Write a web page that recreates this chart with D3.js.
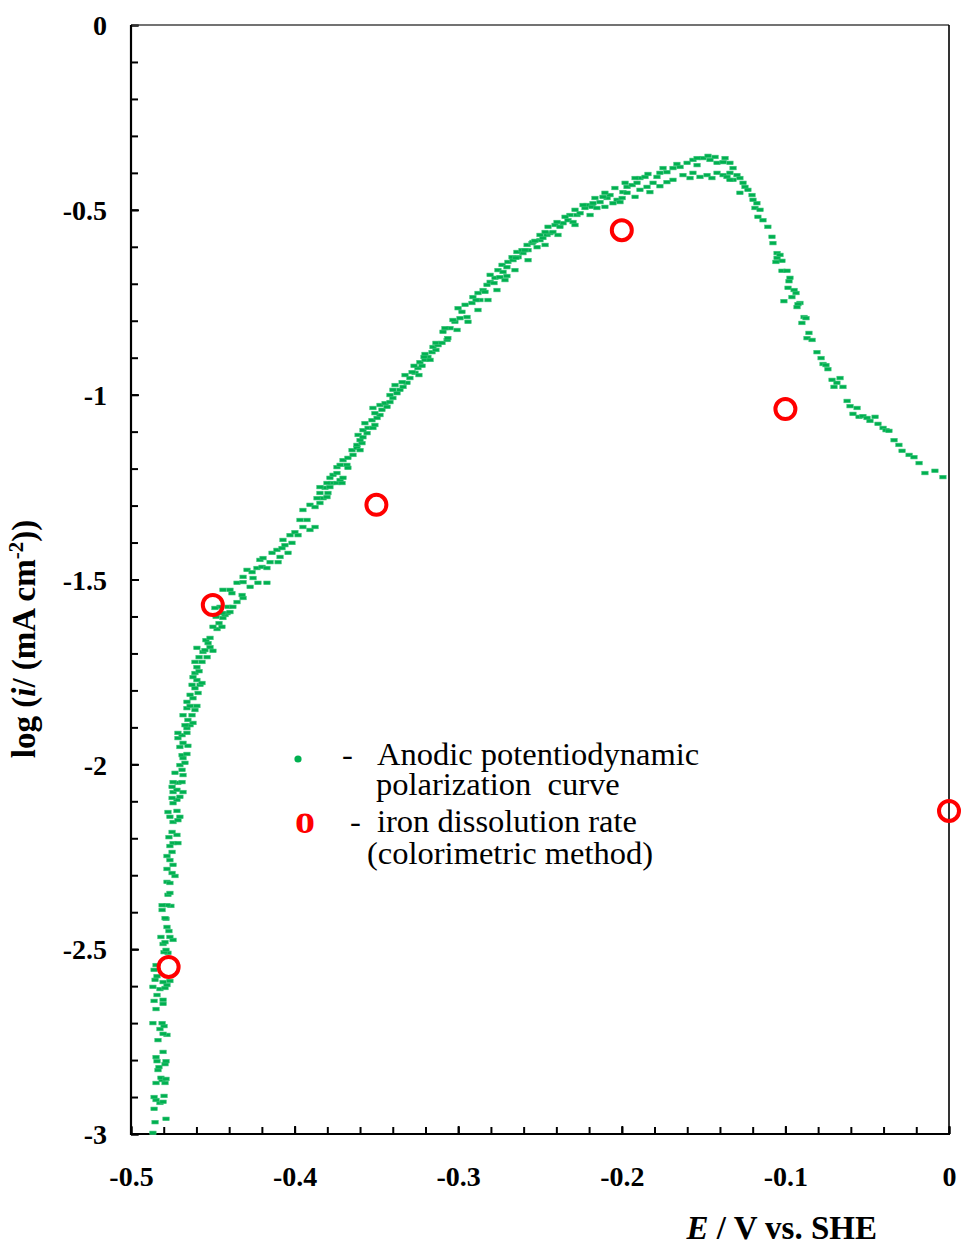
<!DOCTYPE html>
<html>
<head>
<meta charset="utf-8">
<script src="https://cdn.jsdelivr.net/npm/d3@7"></script>
<style>
  html, body { margin: 0; padding: 0; background: #fff; }
  svg { display: block; }
</style>
</head>
<body>
<svg id="chart" width="961" height="1245"></svg>
<script>
// ---- data ----
// Anodic potentiodynamic polarization curve: potential E (V vs. SHE)
const curveE = [
-0.4866,-0.4853,-0.4786,-0.4859,-0.4823,-0.4804,-0.4847,-0.4859,-0.4798,-0.4792,
-0.4847,-0.4810,-0.4817,-0.4786,-0.4835,-0.4829,-0.4792,-0.4786,-0.4841,-0.4847,
-0.4804,-0.4835,-0.4780,-0.4804,-0.4823,-0.4798,-0.4810,-0.4866,-0.4847,-0.4804,
-0.4804,-0.4859,-0.4841,-0.4866,-0.4823,-0.4792,-0.4780,-0.4804,-0.4762,-0.4853,
-0.4841,-0.4859,-0.4847,-0.4774,-0.4798,-0.4786,-0.4804,-0.4792,-0.4743,-0.4762,
-0.4817,-0.4768,-0.4780,-0.4786,-0.4792,-0.4810,-0.4756,-0.4780,-0.4810,-0.4774,
-0.4762,-0.4780,-0.4762,-0.4731,-0.4749,-0.4780,-0.4743,-0.4762,-0.4780,-0.4749,
-0.4743,-0.4762,-0.4713,-0.4749,-0.4719,-0.4768,-0.4743,-0.4713,-0.4701,-0.4762,
-0.4774,-0.4719,-0.4743,-0.4719,-0.4749,-0.4701,-0.4743,-0.4719,-0.4682,-0.4749,
-0.4713,-0.4743,-0.4688,-0.4731,-0.4682,-0.4688,-0.4701,-0.4670,-0.4682,-0.4688,
-0.4658,-0.4701,-0.4652,-0.4682,-0.4713,-0.4688,-0.4658,-0.4713,-0.4658,-0.4639,
-0.4670,-0.4621,-0.4652,-0.4682,-0.4627,-0.4609,-0.4658,-0.4639,-0.4597,-0.4658,
-0.4621,-0.4639,-0.4590,-0.4609,-0.4627,-0.4578,-0.4597,-0.4621,-0.4566,-0.4609,
-0.4584,-0.4597,-0.4609,-0.4566,-0.4584,-0.4535,-0.4560,-0.4597,-0.4548,-0.4517,
-0.4529,-0.4542,-0.4517,-0.4499,
-0.4474,-0.4499,-0.4444,-0.4462,-0.4438,-0.4480,-0.4425,-0.4413,-0.4395,-0.4456,
-0.4407,-0.4377,-0.4487,-0.4444,-0.4352,-0.4315,-0.4321,-0.4383,-0.4438,-0.4395,
-0.4352,-0.4315,-0.4272,-0.4315,-0.4254,-0.4224,-0.4169,-0.4291,-0.4260,-0.4230,
-0.4199,-0.4169,-0.4212,-0.4193,-0.4150,-0.4101,-0.4089,-0.4138,-0.4108,-0.4077,
-0.4059,-0.4016,-0.4040,-0.4071,-0.4028,-0.3998,-0.3979,-0.3949,-0.3967,-0.3924,
-0.3906,-0.3875,-0.3949,-0.3906,-0.3875,-0.3845,-0.3826,-0.3863,-0.3802,-0.3845,
-0.3796,-0.3814,-0.3845,-0.3784,-0.3772,-0.3741,-0.3802,-0.3784,-0.3765,-0.3722,
-0.3710,-0.3704,-0.3741,-0.3741,-0.3722,-0.3680,-0.3674,-0.3704,-0.3674,-0.3643,
-0.3649,-0.3619,-0.3600,-0.3619,-0.3588,-0.3600,-0.3612,-0.3582,-0.3557,-0.3582,
-0.3551,-0.3521,-0.3509,-0.3570,-0.3527,-0.3496,-0.3478,-0.3509,-0.3521,-0.3466,
-0.3478,-0.3435,-0.3447,-0.3417,-0.3399,-0.3417,-0.3374,-0.3356,-0.3399,-0.3337,
-0.3313,-0.3343,-0.3295,-0.3264,-0.3282,-0.3246,-0.3221,-0.3234,-0.3203,-0.3185,
-0.3203,-0.3160,-0.3136,-0.3154,-0.3123,
-0.3386,-0.3325,-0.3270,-0.3209,-0.3172,-0.3136,-0.3240,
-0.3099,-0.3068,-0.3093,-0.3050,-0.3020,-0.2989,-0.2946,-0.3001,-0.2958,-0.2916,
-0.2910,-0.2867,-0.2879,-0.2848,-0.2824,-0.2805,-0.2775,-0.2805,-0.2745,-0.2702,
-0.2757,-0.2732,-0.2702,-0.2696,-0.2665,-0.2671,-0.2634,-0.2604,-0.2641,-0.2610,
-0.2573,-0.2579,-0.2549,-0.2518,-0.2500,-0.2543,-0.2482,-0.2457,-0.2500,-0.2439,
-0.2421,-0.2451,-0.2408,-0.2378,-0.2359,-0.2329,-0.2298,-0.2274,-0.2317,-0.2255,
-0.2225,-0.2213,-0.2182,-0.2152,-0.2176,-0.2133,-0.2090,-0.2115,-0.2072,-0.2054,
-0.2029,-0.1998,-0.1993,-0.1968,-0.1937,-0.1968,-0.1907,-0.1889,-0.1858,-0.1889,
-0.1846,-0.1828,-0.1809,-0.1785,-0.1767,-0.1724,-0.1687,-0.1644,-0.1601,-0.1565,
-0.1504,-0.1430,-0.1418,-0.1381,-0.1339,-0.1320,-0.1339,-0.1296,-0.1278,-0.1320,
-0.1259,-0.1247,-0.1229,-0.1278,-0.1204,-0.1198,-0.1174,-0.1186,-0.1168,
-0.1724,-0.1687,-0.1626,-0.1565,-0.1522,-0.1479,-0.1418,-0.1381,-0.1357,-0.1461,
-0.1540,
-0.3081,-0.3032,-0.2977,-0.2891,-0.2836,-0.2781,-0.2726,-0.2647,-0.2592,-0.2531,
-0.2469,-0.2396,-0.2347,-0.2286,-0.2237,-0.2164,-0.2103,-0.2042,-0.1980,-0.1919,
-0.1840,-0.1748,-0.1663,-0.1540,-0.1473,-0.1369,
-0.3063,-0.3007,-0.2940,-0.2879,-0.2818,-0.2763,-0.2714,-0.2653,-0.2573,-0.2469,
-0.2390,-0.2286,-0.2194,-0.2103,-0.2011,-0.1919,-0.1767,-0.1583,-0.1449,-0.1339,
-0.1155,-0.1137,-0.1107,-0.1082,-0.1076,-0.1051,
-0.1051,-0.1033,-0.1021,-0.1058,-0.1021,-0.0990,-0.0972,-0.0978,-0.0984,-0.0947,
-0.0935,-0.0960,-0.1009,-0.0911,-0.0923,-0.0929,-0.0886,-0.0874,-0.0899,-0.0856,
-0.0868,-0.0837,-0.0807,-0.0782,-0.0770,-0.0752,-0.0740,-0.0715,-0.0666,-0.0685,
-0.0703,-0.0648,-0.0623,-0.0605,-0.0562,-0.0587,-0.0550,-0.0526,-0.0501,-0.0483,
-0.0452,-0.0434,-0.0403,-0.0385,-0.0367,-0.0336,-0.0306,-0.0287,-0.0244,-0.0214,
-0.0183,-0.0147,-0.0086,-0.0037
];
// Anodic potentiodynamic polarization curve: log(i / (mA cm-2))
const curveLogI = [
-2.997,-2.968,-2.959,-2.932,-2.916,-2.913,-2.908,-2.900,-2.897,-2.862,
-2.862,-2.854,-2.848,-2.851,-2.827,-2.819,-2.811,-2.803,-2.803,-2.792,
-2.778,-2.746,-2.732,-2.729,-2.716,-2.708,-2.700,-2.700,-2.662,-2.648,
-2.637,-2.640,-2.624,-2.602,-2.608,-2.605,-2.597,-2.589,-2.586,-2.583,
-2.573,-2.556,-2.543,-2.510,-2.508,-2.502,-2.486,-2.481,-2.475,-2.467,
-2.467,-2.451,-2.440,-2.418,-2.416,-2.394,-2.383,-2.381,-2.381,-2.353,
-2.348,-2.318,-2.321,-2.302,-2.294,-2.283,-2.272,-2.259,-2.248,-2.237,
-2.213,-2.221,-2.213,-2.183,-2.191,-2.197,-2.156,-2.151,-2.142,-2.142,
-2.129,-2.126,-2.105,-2.096,-2.091,-2.088,-2.075,-2.069,-2.075,-2.061,
-2.050,-2.048,-2.048,-2.023,-2.029,-2.015,-2.002,-1.996,-1.983,-1.975,
-1.972,-1.953,-1.950,-1.942,-1.929,-1.921,-1.915,-1.915,-1.902,-1.894,
-1.894,-1.888,-1.880,-1.867,-1.867,-1.853,-1.848,-1.842,-1.842,-1.831,
-1.821,-1.812,-1.807,-1.794,-1.785,-1.785,-1.772,-1.764,-1.780,-1.753,
-1.748,-1.737,-1.723,-1.723,-1.710,-1.710,-1.696,-1.685,-1.691,-1.683,
-1.672,-1.664,-1.658,-1.693,
-1.634,-1.628,-1.628,-1.618,-1.604,-1.601,-1.596,-1.591,-1.588,-1.574,
-1.574,-1.574,-1.577,-1.591,-1.561,-1.550,-1.542,-1.537,-1.528,-1.528,
-1.509,-1.507,-1.520,-1.493,-1.496,-1.509,-1.509,-1.474,-1.480,-1.469,
-1.466,-1.469,-1.447,-1.442,-1.453,-1.453,-1.439,-1.428,-1.420,-1.415,
-1.407,-1.401,-1.428,-1.393,-1.380,-1.372,-1.380,-1.358,-1.339,-1.339,
-1.366,-1.358,-1.312,-1.298,-1.304,-1.293,-1.280,-1.280,-1.277,-1.266,
-1.266,-1.252,-1.250,-1.250,-1.239,-1.239,-1.239,-1.225,-1.217,-1.231,
-1.239,-1.225,-1.212,-1.196,-1.190,-1.190,-1.198,-1.177,-1.171,-1.163,
-1.150,-1.144,-1.150,-1.136,-1.131,-1.123,-1.109,-1.115,-1.104,-1.096,
-1.090,-1.090,-1.082,-1.077,-1.069,-1.063,-1.055,-1.050,-1.036,-1.041,
-1.028,-1.033,-1.023,-1.020,-1.009,-1.001,-0.996,-0.987,-0.987,-0.979,
-0.968,-0.966,-0.955,-0.941,-0.939,-0.928,-0.922,-0.912,-0.906,-0.898,
-0.890,-0.885,-0.879,-0.871,-0.866,
-0.974,-0.947,-0.922,-0.898,-0.906,-0.860,-0.947,
-0.860,-0.852,-0.830,-0.820,-0.803,-0.793,-0.790,-0.766,-0.757,-0.752,
-0.736,-0.744,-0.725,-0.717,-0.703,-0.695,-0.684,-0.676,-0.682,-0.679,
-0.663,-0.649,-0.655,-0.641,-0.636,-0.628,-0.628,-0.617,-0.614,-0.609,
-0.609,-0.595,-0.590,-0.601,-0.582,-0.587,-0.576,-0.568,-0.568,-0.563,
-0.560,-0.546,-0.541,-0.546,-0.536,-0.528,-0.533,-0.514,-0.514,-0.509,
-0.495,-0.487,-0.492,-0.495,-0.482,-0.479,-0.468,-0.465,-0.460,-0.482,
-0.473,-0.468,-0.452,-0.438,-0.433,-0.454,-0.427,-0.414,-0.411,-0.446,
-0.438,-0.452,-0.427,-0.411,-0.400,-0.398,-0.387,-0.384,-0.373,-0.365,
-0.360,-0.357,-0.373,-0.371,-0.373,-0.387,-0.400,-0.406,-0.414,-0.419,
-0.427,-0.438,-0.446,-0.454,-0.460,-0.473,-0.482,-0.495,-0.519,
-0.425,-0.419,-0.406,-0.400,-0.411,-0.406,-0.400,-0.406,-0.411,-0.365,
-0.379,
-0.820,-0.798,-0.776,-0.744,-0.722,-0.698,-0.668,-0.630,-0.609,-0.584,
-0.560,-0.533,-0.519,-0.500,-0.487,-0.468,-0.454,-0.441,-0.427,-0.414,
-0.403,-0.387,-0.376,-0.360,-0.354,-0.360,
-0.847,-0.825,-0.803,-0.771,-0.744,-0.717,-0.690,-0.663,-0.636,-0.595,
-0.568,-0.541,-0.514,-0.492,-0.479,-0.465,-0.436,-0.414,-0.414,-0.419,
-0.500,-0.528,-0.546,-0.573,-0.590,-0.617,
-0.630,-0.622,-0.638,-0.641,-0.665,-0.665,-0.684,-0.693,-0.711,-0.717,
-0.725,-0.736,-0.747,-0.752,-0.755,-0.763,-0.790,-0.793,-0.806,-0.833,
-0.847,-0.852,-0.885,-0.901,-0.917,-0.920,-0.931,-0.960,-0.955,-0.968,
-0.979,-0.979,-1.017,-1.031,-1.036,-1.052,-1.060,-1.058,-1.063,-1.071,
-1.060,-1.079,-1.090,-1.096,-1.098,-1.123,-1.136,-1.152,-1.163,-1.169,
-1.185,-1.212,-1.206,-1.223
];
// Iron dissolution rate (colorimetric method)
const colorE = [-0.477, -0.45, -0.35, -0.2, -0.1, 0.0];
const colorLogI = [-2.548, -1.569, -1.298, -0.555, -1.039, -2.126];

// Axis ticks
const xMajorTicks = [-0.5, -0.4, -0.3, -0.2, -0.1, 0];
const xTickLabels = ["-0.5", "-0.4", "-0.3", "-0.2", "-0.1", "0"];
const yMajorTicks = [0, -0.5, -1, -1.5, -2, -2.5, -3];
const yTickLabels = ["0", "-0.5", "-1", "-1.5", "-2", "-2.5", "-3"];

// ---- drawing ----
const svg = d3.select("#chart");
const L = 131, R = 949, T = 25, B = 1134;
const x = d3.scaleLinear().domain([-0.5, 0]).range([L, R]);
const y = d3.scaleLinear().domain([-3, 0]).range([B, T]);
const serif = "'Liberation Serif', 'Times New Roman', serif";

// minor ticks
const xMinor = d3.range(0, 26).map(i => -0.5 + i * 0.02);
const yMinor = d3.range(0, 31).map(i => -3 + i * 0.1);

const gx = svg.append("g").attr("transform", `translate(0,${B})`)
  .call(d3.axisBottom(x).tickValues(xMinor).tickSize(-7).tickFormat(""));
gx.select(".domain").remove();
gx.selectAll("line").attr("stroke", "#000").attr("stroke-width", 2);

const gxl = svg.append("g").attr("transform", `translate(0,${B})`)
  .call(d3.axisBottom(x).tickValues(xMajorTicks).tickSize(-8)
    .tickFormat((d, i) => xTickLabels[i]));
gxl.select(".domain").remove();
gxl.selectAll("line").attr("stroke", "#000").attr("stroke-width", 2);
gxl.selectAll("text").attr("y", 52).attr("dy", 0)
  .attr("font-family", serif).attr("font-weight", "bold")
  .attr("font-size", 28).attr("fill", "#000");

const gy = svg.append("g").attr("transform", `translate(${L},0)`)
  .call(d3.axisLeft(y).tickValues(yMinor).tickSize(-7).tickFormat(""));
gy.select(".domain").remove();
gy.selectAll("line").attr("stroke", "#000").attr("stroke-width", 2);

const gyl = svg.append("g").attr("transform", `translate(${L},0)`)
  .call(d3.axisLeft(y).tickValues(yMajorTicks).tickSize(-8)
    .tickFormat((d, i) => yTickLabels[i]));
gyl.select(".domain").remove();
gyl.selectAll("line").attr("stroke", "#000").attr("stroke-width", 2);
gyl.selectAll("text").attr("x", -24).attr("dy", "0.35em")
  .attr("font-family", serif).attr("font-weight", "bold")
  .attr("font-size", 28).attr("fill", "#000");

// frame
svg.append("line").attr("x1", L).attr("x2", R).attr("y1", T).attr("y2", T)
  .attr("stroke", "#444").attr("stroke-width", 1.3);
svg.append("line").attr("x1", R).attr("x2", R).attr("y1", T).attr("y2", B)
  .attr("stroke", "#000").attr("stroke-width", 1.6);
svg.append("line").attr("x1", L).attr("x2", L).attr("y1", T).attr("y2", B + 1)
  .attr("stroke", "#000").attr("stroke-width", 2.2);
svg.append("line").attr("x1", L - 1).attr("x2", R + 1).attr("y1", B).attr("y2", B)
  .attr("stroke", "#000").attr("stroke-width", 2.2);

// curve points
const pts = curveE.map((e, i) => ({ e, v: curveLogI[i] }));
svg.append("g").selectAll("rect").data(pts).join("rect")
  .attr("x", d => x(d.e) - 3.2).attr("y", d => y(d.v) - 1.8)
  .attr("width", 6.4).attr("height", 3.6)
  .attr("fill", "#00b050").attr("stroke", "#3cc47a").attr("stroke-width", 0.6);

// colorimetric points
const cpts = colorE.map((e, i) => ({ e, v: colorLogI[i] }));
svg.append("g").selectAll("circle").data(cpts).join("circle")
  .attr("cx", d => x(d.e)).attr("cy", d => y(d.v)).attr("r", 10)
  .attr("fill", "none").attr("stroke", "#ff0000").attr("stroke-width", 4);

// axis titles
const yt = svg.append("text")
  .attr("transform", "translate(35,639) rotate(-90)")
  .attr("text-anchor", "middle").attr("font-family", serif)
  .attr("font-weight", "bold").attr("font-size", 33).attr("fill", "#000");
yt.append("tspan").text("log (");
yt.append("tspan").attr("font-style", "italic").text("i");
yt.append("tspan").text("/ (mA cm");
yt.append("tspan").attr("font-size", 21).attr("dy", -12).text("-2");
yt.append("tspan").attr("dy", 12).text("))");

const xt = svg.append("text")
  .attr("x", 877).attr("y", 1239).attr("text-anchor", "end")
  .attr("font-family", serif).attr("font-weight", "bold")
  .attr("font-size", 33).attr("fill", "#000");
xt.append("tspan").attr("font-style", "italic").text("E");
xt.append("tspan").text(" / V vs. SHE");

// legend
const lg = svg.append("g").attr("font-family", serif).attr("font-size", 32.5).attr("fill", "#000");
lg.append("circle").attr("cx", 298).attr("cy", 759).attr("r", 3.6).attr("fill", "#00b050");
lg.append("text").attr("x", 342).attr("y", 765).text("-");
lg.append("text").attr("x", 377).attr("y", 765).text("Anodic potentiodynamic");
lg.append("text").attr("x", 376).attr("y", 795).attr("xml:space", "preserve").text("polarization  curve");
lg.append("text").attr("x", 305).attr("y", 833).attr("text-anchor", "middle")
  .attr("font-weight", "bold").attr("font-size", 40).attr("fill", "#ff0000").text("o");
lg.append("text").attr("x", 350).attr("y", 832).text("-");
lg.append("text").attr("x", 377).attr("y", 832).text("iron dissolution rate");
lg.append("text").attr("x", 367).attr("y", 864).text("(colorimetric method)");
</script>
</body>
</html>
